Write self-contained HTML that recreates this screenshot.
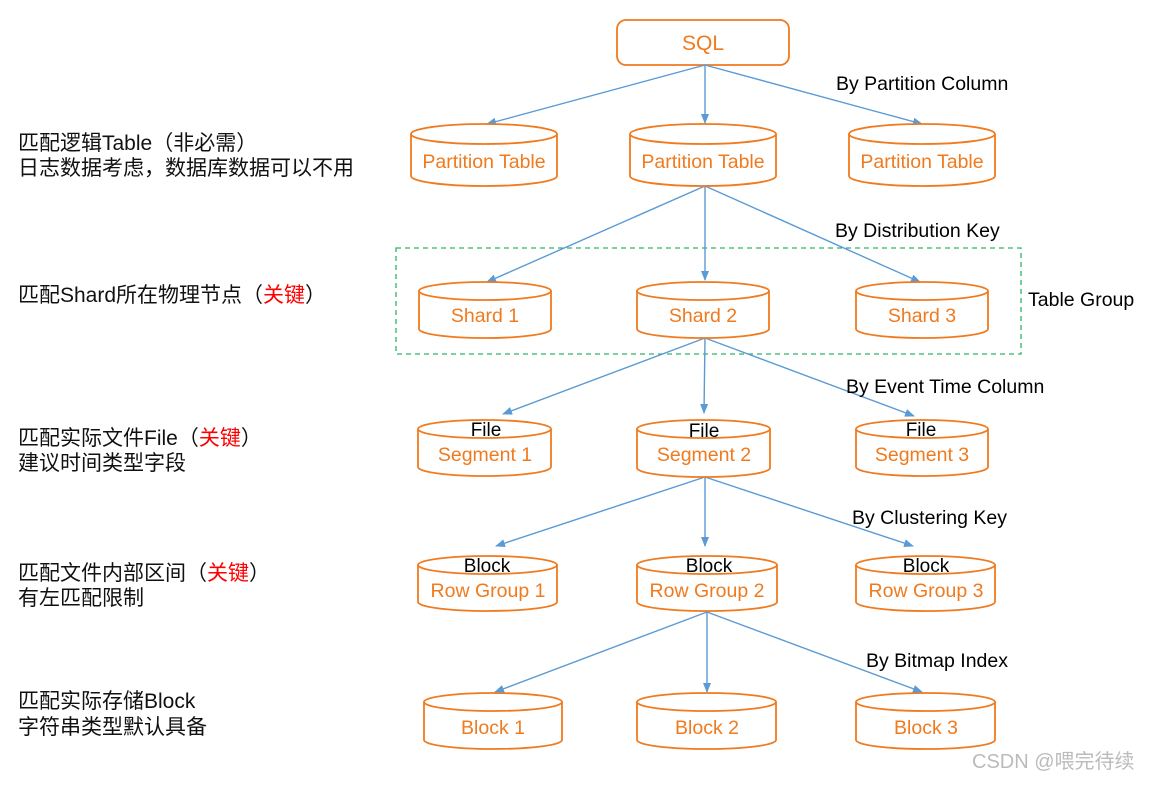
<!DOCTYPE html>
<html><head><meta charset="utf-8"><style>
body{margin:0;background:#fff;width:1152px;height:780px;overflow:hidden}
svg text{font-family:"Liberation Sans","Noto Sans CJK SC",sans-serif}
.o{fill:#f07a1e;font-size:19.5px;text-anchor:middle}
.b{fill:#000;font-size:19px;text-anchor:middle}
.l{fill:#111;font-size:21px}
.c{fill:#fff;stroke:#f07a1e;stroke-width:1.8}
.a{stroke:#5b9bd5;stroke-width:1.4;fill:none;marker-end:url(#ar)}
</style></head><body>
<svg width="1152" height="780" viewBox="0 0 1152 780" xmlns="http://www.w3.org/2000/svg">
<defs><marker id="ar" markerWidth="10" markerHeight="8" refX="9" refY="4" orient="auto" markerUnits="userSpaceOnUse"><path d="M0,0 L10,4 L0,8 Z" fill="#5b9bd5"/></marker></defs>

<rect x="617" y="20" width="172" height="45" rx="9" fill="#fff" stroke="#f07a1e" stroke-width="1.8"/>
<text class="o" x="703" y="50" style="font-size:21px">SQL</text>

<rect x="396" y="248" width="625" height="106" fill="none" stroke="#2db36a" stroke-width="1.3" stroke-dasharray="5,4"/>

<line class="a" x1="705" y1="65" x2="487" y2="124"/>
<line class="a" x1="705" y1="65" x2="705" y2="123"/>
<line class="a" x1="705" y1="65" x2="922" y2="124"/>
<line class="a" x1="705" y1="186" x2="487" y2="282"/>
<line class="a" x1="705" y1="186" x2="705" y2="280"/>
<line class="a" x1="705" y1="186" x2="920" y2="282"/>
<line class="a" x1="705" y1="338" x2="503" y2="414"/>
<line class="a" x1="705" y1="338" x2="704" y2="413"/>
<line class="a" x1="705" y1="338" x2="914" y2="416"/>
<line class="a" x1="705" y1="477" x2="496" y2="546"/>
<line class="a" x1="705" y1="477" x2="705" y2="546"/>
<line class="a" x1="705" y1="477" x2="913" y2="546"/>
<line class="a" x1="707" y1="612" x2="495" y2="692"/>
<line class="a" x1="707" y1="612" x2="707" y2="692"/>
<line class="a" x1="707" y1="612" x2="922" y2="692"/>

<g class="c">
<path d="M411,134 A73,10 0 0 1 557,134 V176 A73,10 0 0 1 411,176 Z"/><path d="M411,134 A73,10 0 0 0 557,134" fill="none"/>
<path d="M630,134 A73,10 0 0 1 776,134 V176 A73,10 0 0 1 630,176 Z"/><path d="M630,134 A73,10 0 0 0 776,134" fill="none"/>
<path d="M849,134 A73,10 0 0 1 995,134 V176 A73,10 0 0 1 849,176 Z"/><path d="M849,134 A73,10 0 0 0 995,134" fill="none"/>
<path d="M419,291 A66,9 0 0 1 551,291 V329 A66,9 0 0 1 419,329 Z"/><path d="M419,291 A66,9 0 0 0 551,291" fill="none"/>
<path d="M637,291 A66,9 0 0 1 769,291 V329 A66,9 0 0 1 637,329 Z"/><path d="M637,291 A66,9 0 0 0 769,291" fill="none"/>
<path d="M856,291 A66,9 0 0 1 988,291 V329 A66,9 0 0 1 856,329 Z"/><path d="M856,291 A66,9 0 0 0 988,291" fill="none"/>
<path d="M418,429 A66.5,9 0 0 1 551,429 V467 A66.5,9 0 0 1 418,467 Z"/><path d="M418,429 A66.5,9 0 0 0 551,429" fill="none"/>
<path d="M637,429 A66.5,9 0 0 1 770,429 V468 A66.5,9 0 0 1 637,468 Z"/><path d="M637,429 A66.5,9 0 0 0 770,429" fill="none"/>
<path d="M856,429 A66,9 0 0 1 988,429 V467 A66,9 0 0 1 856,467 Z"/><path d="M856,429 A66,9 0 0 0 988,429" fill="none"/>
<path d="M418,565 A69.5,9 0 0 1 557,565 V602 A69.5,9 0 0 1 418,602 Z"/><path d="M418,565 A69.5,9 0 0 0 557,565" fill="none"/>
<path d="M637,565 A70,9 0 0 1 777,565 V602 A70,9 0 0 1 637,602 Z"/><path d="M637,565 A70,9 0 0 0 777,565" fill="none"/>
<path d="M856,565 A69.5,9 0 0 1 995,565 V602 A69.5,9 0 0 1 856,602 Z"/><path d="M856,565 A69.5,9 0 0 0 995,565" fill="none"/>
<path d="M424,702 A69,9 0 0 1 562,702 V740 A69,9 0 0 1 424,740 Z"/><path d="M424,702 A69,9 0 0 0 562,702" fill="none"/>
<path d="M637,702 A69.5,9 0 0 1 776,702 V740 A69.5,9 0 0 1 637,740 Z"/><path d="M637,702 A69.5,9 0 0 0 776,702" fill="none"/>
<path d="M856,702 A69.5,9 0 0 1 995,702 V740 A69.5,9 0 0 1 856,740 Z"/><path d="M856,702 A69.5,9 0 0 0 995,702" fill="none"/>
</g>

<text class="o" x="484" y="168">Partition Table</text>
<text class="o" x="703" y="168">Partition Table</text>
<text class="o" x="922" y="168">Partition Table</text>
<text class="o" x="485" y="322">Shard 1</text>
<text class="o" x="703" y="322">Shard 2</text>
<text class="o" x="922" y="322">Shard 3</text>
<text class="b" x="486" y="436">File</text>
<text class="b" x="704" y="437">File</text>
<text class="b" x="921" y="436">File</text>
<text class="o" x="485" y="461">Segment 1</text>
<text class="o" x="704" y="461">Segment 2</text>
<text class="o" x="922" y="461">Segment 3</text>
<text class="b" x="487" y="572">Block</text>
<text class="b" x="709" y="572">Block</text>
<text class="b" x="926" y="572">Block</text>
<text class="o" x="488" y="597">Row Group 1</text>
<text class="o" x="707" y="597">Row Group 2</text>
<text class="o" x="926" y="597">Row Group 3</text>
<text class="o" x="493" y="734">Block 1</text>
<text class="o" x="707" y="734">Block 2</text>
<text class="o" x="926" y="734">Block 3</text>

<g style="font-size:19.5px;fill:#000">
<text x="836" y="90">By Partition Column</text>
<text x="835" y="237">By Distribution Key</text>
<text x="1028" y="306">Table Group</text>
<text x="846" y="393">By Event Time Column</text>
<text x="852" y="524">By Clustering Key</text>
<text x="866" y="667">By Bitmap Index</text>
</g>

<text class="l" x="18" y="150">匹配逻辑Table（非必需）</text>
<text class="l" x="18" y="175">日志数据考虑，数据库数据可以不用</text>
<text class="l" x="18" y="302">匹配Shard所在物理节点（<tspan fill="#ff0000">关键</tspan>）</text>
<text class="l" x="18" y="445">匹配实际文件File（<tspan fill="#ff0000">关键</tspan>）</text>
<text class="l" x="18" y="470">建议时间类型字段</text>
<text class="l" x="18" y="580">匹配文件内部区间（<tspan fill="#ff0000">关键</tspan>）</text>
<text class="l" x="18" y="605">有左匹配限制</text>
<text class="l" x="18" y="708">匹配实际存储Block</text>
<text class="l" x="18" y="734">字符串类型默认具备</text>

<text x="972" y="768" style="font-size:20px;fill:#bbbbbb">CSDN @喂完待续</text>
</svg>
</body></html>
